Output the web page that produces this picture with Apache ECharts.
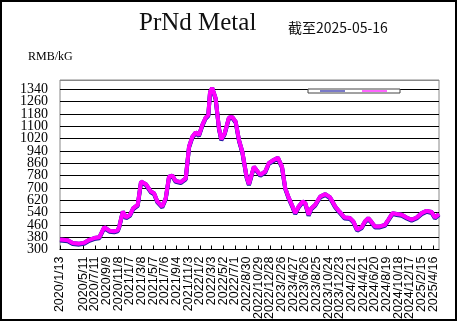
<!DOCTYPE html>
<html>
<head>
<meta charset="utf-8">
<script src="https://cdn.jsdelivr.net/npm/echarts@6/dist/echarts.min.js"></script>
<style>html,body{margin:0;padding:0;background:#fff}#c{width:458px;height:324px}</style>
</head>
<body>
<div id="c"></div>
<script>
// x tick labels (one every 60 days from 2020/1/13)
const tickLabels = ["2020/1/13","2020/3/13","2020/5/11","2020/7/11","2020/9/9","2020/11/8","2021/1/7","2021/3/8","2021/5/7","2021/7/6","2021/9/4","2021/11/3","2022/1/2","2022/3/3","2022/5/2","2022/7/1","2022/8/30","2022/10/29","2022/12/28","2023/2/26","2023/4/27","2023/6/26","2023/8/25","2023/10/24","2023/12/23","2024/2/21","2024/4/21","2024/6/20","2024/8/19","2024/10/18","2024/12/17","2025/2/15","2025/4/16"];
const yTicks = [300,380,460,540,620,700,780,860,940,1020,1100,1180,1260,1340];

const dates = ["2020/1/13","2020/2/22","2020/3/18","2020/4/21","2020/5/17","2020/6/12","2020/7/7","2020/8/2","2020/8/28","2020/9/23","2020/10/18","2020/11/5","2020/11/13","2020/12/1","2020/12/18","2021/1/7","2021/1/24","2021/2/16","2021/3/5","2021/3/30","2021/4/25","2021/5/11","2021/5/28","2021/6/22","2021/7/10","2021/7/27","2021/8/13","2021/8/30","2021/9/25","2021/10/21","2021/11/7","2021/11/24","2021/12/11","2021/12/28","2022/1/14","2022/1/31","2022/2/14","2022/2/23","2022/3/6","2022/3/24","2022/4/10","2022/4/22","2022/5/9","2022/5/31","2022/6/17","2022/7/5","2022/7/22","2022/8/8","2022/8/30","2022/9/11","2022/9/27","2022/10/7","2022/10/14","2022/11/8","2022/12/4","2022/12/22","2023/1/16","2023/2/7","2023/2/28","2023/3/17","2023/4/3","2023/4/20","2023/5/7","2023/5/25","2023/6/14","2023/6/28","2023/7/15","2023/7/29","2023/8/18","2023/9/13","2023/10/9","2023/11/3","2023/11/29","2023/12/20","2024/1/16","2024/2/13","2024/3/1","2024/3/21","2024/4/13","2024/4/30","2024/5/17","2024/5/29","2024/6/20","2024/7/16","2024/8/11","2024/8/28","2024/9/19","2024/10/10","2024/11/5","2024/11/30","2024/12/26","2025/1/21","2025/2/16","2025/3/13","2025/4/8","2025/4/25","2025/5/16"];
const priceHigh = [365,360,342,338,344,363,374,379,445,422,418,424,450,547,508,525,568,590,741,724,676,665,612,579,633,773,780,745,737,762,968,1032,1060,1043,1107,1155,1172,1323,1349,1280,1086,1015,1053,1155,1161,1129,1010,935,773,724,795,838,845,784,806,860,881,896,838,698,638,590,536,579,612,601,525,568,590,644,659,638,579,547,508,504,482,428,444,482,504,486,450,450,460,493,536,530,525,508,493,508,536,551,543,508,530];
const priceLow = priceHigh.slice();

const base = Date.UTC(2020,0,13);
function dayOf(s){const p=s.split('/').map(Number);return Math.round((Date.UTC(p[0],p[1]-1,p[2])-base)/86400000);}
const hiData = dates.map((d,i)=>[dayOf(d),priceHigh[i]]);
const loData = dates.map((d,i)=>[dayOf(d),priceLow[i]]);

const splitColors = yTicks.map(()=>'#000').concat(['#888']);
const yLabelStyle = {margin:12,fontFamily:'Liberation Serif',fontSize:14,color:'#000'};

const chart = echarts.init(document.getElementById('c'),null,{renderer:'canvas'});
chart.setOption({
  backgroundColor:'#fff',
  animation:false,
  title:[
    {text:'PrNd Metal',left:134,top:6,textStyle:{fontFamily:'Liberation Serif',fontSize:25,fontWeight:'normal',color:'#111'}},
    {text:'截至2025-05-16',left:283,top:16,textStyle:{fontFamily:'Noto Sans CJK SC',fontSize:14,fontWeight:'normal',color:'#111'}},
    {text:'RMB/kG',left:23,top:46,textStyle:{fontFamily:'Liberation Serif',fontSize:12,fontWeight:'normal',color:'#000'}}
  ],
  legend:{left:308,top:89,padding:[1,8,1,12],itemWidth:25,itemHeight:2,itemGap:12,icon:'rect',
    borderColor:'#444',borderWidth:1,backgroundColor:'#fff',
    formatter:()=>'',textStyle:{fontSize:3,lineHeight:3},
    data:['low','high']},
  grid:{left:60,right:19,top:80,bottom:74.5,show:true,borderColor:'#888',borderWidth:1,backgroundColor:'#fff'},
  xAxis:{type:'value',min:0,max:1950,interval:60,
    axisLine:{show:true,lineStyle:{color:'#000',width:1}},
    axisTick:{show:true,inside:true,length:4,lineStyle:{color:'#000'}},
    axisLabel:{rotate:90,margin:7,fontFamily:'Liberation Sans',fontSize:12.5,color:'#000',showMaxLabel:false,showMinLabel:true,
      formatter:v=>{const i=Math.round(v/60);return Math.abs(v-i*60)<1e-6&&tickLabels[i]?tickLabels[i]:'';}},
    splitLine:{show:false}},
  yAxis:[
    {type:'value',min:300,max:1400,interval:80,
      axisLine:{show:false},axisTick:{show:false},
      axisLabel:Object.assign({showMaxLabel:false,showMinLabel:false,
        formatter:v=>{const r=Math.round(v);return yTicks.indexOf(r)>0?String(r):'';}},yLabelStyle),
      splitLine:{show:true,lineStyle:{color:splitColors,width:1}}},
    {type:'value',min:300,max:1400,interval:80,position:'left',offset:0,
      axisLine:{show:false},axisTick:{show:false},splitLine:{show:false},
      axisLabel:Object.assign({showMaxLabel:false,showMinLabel:true,
        formatter:v=>Math.round(v)===yTicks[0]?String(yTicks[0]):''},yLabelStyle)}
  ],
  series:[
    {name:'low',type:'line',yAxisIndex:0,data:loData,showSymbol:false,symbol:'none',
      lineStyle:{color:'#1c1ca0',width:4,shadowColor:'#1c1ca0',shadowOffsetY:1,shadowBlur:0},
      itemStyle:{color:'#7a7ac8'},z:2},
    {name:'high',type:'line',yAxisIndex:0,data:hiData,showSymbol:false,symbol:'none',
      lineStyle:{color:'#ff00ff',width:4},itemStyle:{color:'#ff66ff'},z:3}
  ],
  graphic:[{type:'rect',shape:{x:1,y:1,width:455,height:319},style:{fill:null,stroke:'#000',lineWidth:2},z:100,silent:true}]
});
</script>
</body>
</html>
